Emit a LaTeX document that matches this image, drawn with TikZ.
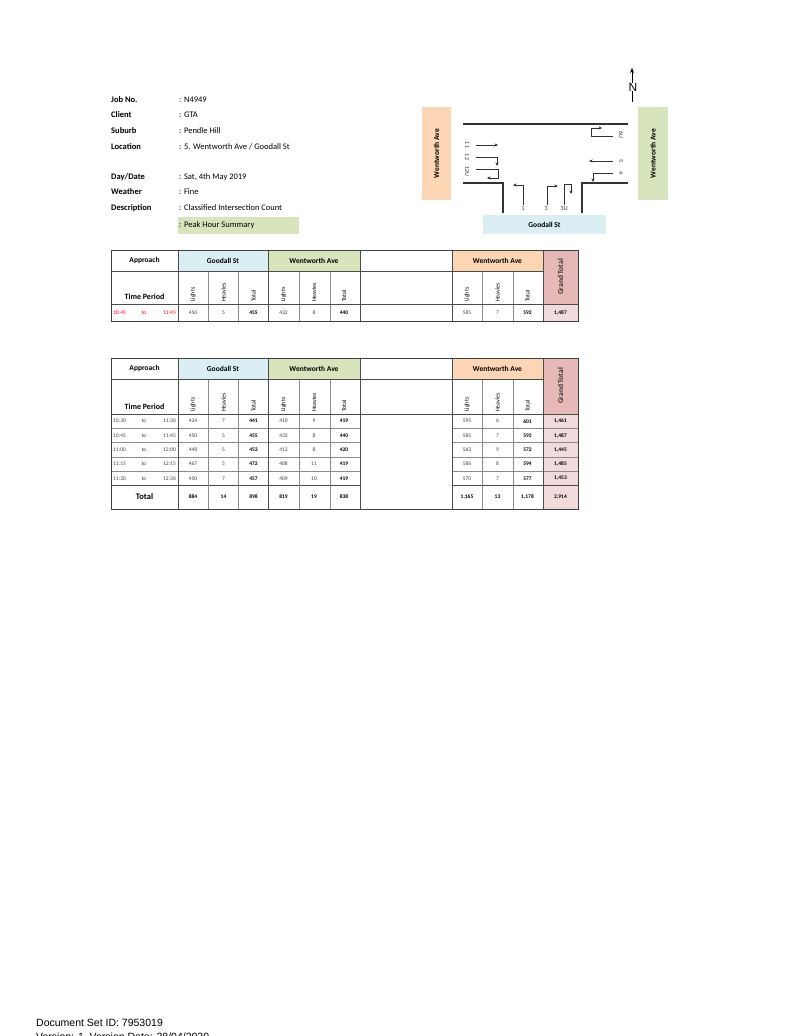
\documentclass[tikz,border=0pt]{standalone}
\usepackage{fontspec}
\usetikzlibrary{arrows.meta}
\setmainfont{Carlito}
\newfontfamily\arial{Liberation Sans}
\definecolor{cblue}{HTML}{DAEEF3}
\definecolor{cgreen}{HTML}{D8E4BC}
\definecolor{corange}{HTML}{FCD5B4}
\definecolor{cgt}{HTML}{E6B8B7}
\definecolor{cgtl}{HTML}{F2DCDB}
\definecolor{grid}{HTML}{8C8C8C}
\begin{document}
\begin{tikzpicture}[x=1pt,y=-1pt,
  lbl/.style={font=\fontsize{8.5}{9}\selectfont\bfseries,anchor=west,inner sep=0},
  val/.style={font=\fontsize{8.5}{9}\selectfont,anchor=west,inner sep=0},
  hd/.style={font=\fontsize{7.5}{8}\selectfont\bfseries,inner sep=0},
  sub/.style={font=\fontsize{6}{6}\selectfont,rotate=90,anchor=west,inner sep=0},
  dat/.style={font=\fontsize{5.5}{6}\selectfont,inner sep=0,text=black!75},
  datb/.style={font=\fontsize{5.5}{6}\selectfont\bfseries,inner sep=0},
  road/.style={line width=1.1pt,black!80},
  mv/.style={-{Stealth[length=3.5pt,width=3pt]},line width=0.5pt,black!80},
  mvl/.style={font=\fontsize{6}{6}\selectfont,rotate=-90,inner sep=0,text=black!80},
  tl/.style={grid,line width=0.4pt},
  tb/.style={black!70,line width=0.9pt}]
\useasboundingbox (0,0) rectangle (796,1036);
\clip (0,0) rectangle (796,1036);
\fill[white] (0,0) rectangle (796,1036);
% header
\node[lbl] (k1) at (111,100) {Job No.};
\node[lbl] (k2) at (111,115) {Client};
\node[lbl] (k3) at (111,131) {Suburb};
\node[lbl] (k4) at (111,147) {Location};
\node[lbl] (k5) at (111,177) {Day/Date};
\node[lbl] (k6) at (111,192) {Weather};
\node[lbl] (k7) at (111,208) {Description};
\node[val] (v1) at (179,100) {: N4949};
\node[val] (v2) at (179,115) {: GTA};
\node[val] (v3) at (179,131) {: Pendle Hill};
\node[val] (v4) at (179,147) {: 5. Wentworth Ave / Goodall St};
\node[val] (v5) at (179,177) {: Sat, 4th May 2019};
\node[val] (v6) at (179,192) {: Fine};
\node[val] (v7) at (179,208) {: Classified Intersection Count};
\fill[cgreen] (178,217) rectangle (299,234);
\node[val] (v8) at (179,225.5) {: Peak Hour Summary};
% intersection
\fill[corange] (422,107) rectangle (451,200);
\node[hd,rotate=90] (wa) at (436.5,153.5) {Wentworth Ave};
\fill[cgreen] (638,107) rectangle (668,200);
\node[hd,rotate=90] (wb) at (653,153.5) {Wentworth Ave};
\fill[cblue] (483,215) rectangle (606,234);
\node[hd] (gs) at (544.5,224.5) {Goodall St};
\draw[road] (463,124) -- (628,124);
\draw[road] (463,183) -- (503,183) -- (503,213);
\draw[road] (628,183) -- (582,183) -- (582,213);
\coordinate (n1) at (632,102); \coordinate (n2) at (632,68);
\draw[-{Stealth[length=5pt,width=4pt]},line width=0.7pt] (n1) -- (n2);
\node[font=\arial\fontsize{12}{12}\selectfont,inner sep=0,fill=white] (N) at (633,87) {N};
\draw[mv] (476,145) -- (498,145);
\draw[mv] (476,157) -- (497,157) -- (497,166);
\draw[mv] (476,169) -- (498,169) -- (498,178) -- (487,178);
\node[mvl] (l11) at (467,145) {11};
\node[mvl] (l12) at (467,157) {12};
\node[mvl] (l12u) at (467,171) {12U};
\draw[mv] (613,136) -- (591,136) -- (591,128) -- (602,128);
\draw[mv] (613,161) -- (589,161);
\draw[mv] (613,173) -- (593,173) -- (593,182);
\node[mvl] (l6) at (621,135) {6U};
\node[mvl] (l5) at (621,161) {5};
\node[mvl] (l4) at (621,173) {4};
\draw[mv] (523,205) -- (523,185) -- (513,185);
\draw[mv] (547,205) -- (547,186) -- (558,186);
\draw[mv] (564,205) -- (564,184) -- (571,184) -- (571,194);
\node[dat,font=\fontsize{6.5}{6}\selectfont] (b1) at (523,208.5) {1};
\node[dat,font=\fontsize{6.5}{6}\selectfont] (b3) at (546,208.5) {3};
\node[dat,font=\fontsize{6.5}{6}\selectfont] (b3u) at (564,208.5) {3U};
% table macros
\newcommand{\tabhead}[3]{%
  \fill[cblue] (178,#1) rectangle (268,#2);
  \fill[cgreen] (268,#1) rectangle (360,#2);
  \fill[corange] (452,#1) rectangle (543,#2);
  \fill[cgt] (543,#1) rectangle (578,#3);
  \node[hd] at (144.5,{(#1+#2)/2}) {Approach};
  \node[hd] at (223,{(#1+#2)/2}) {Goodall St};
  \node[hd] at (314,{(#1+#2)/2}) {Wentworth Ave};
  \node[hd] at (497.5,{(#1+#2)/2}) {Wentworth Ave};
  \node[hd,rotate=90,text=black!80] at (560.5,{(#1+#3)/2}) {Grand Total};
  \node[hd,font=\fontsize{8}{8}\selectfont\bfseries] at (144.5,{#3-7}) {Time Period};
  \foreach \x in {193,283.5,467}{
    \node[sub] at (\x,{#3-2}) {Lights};
    \node[sub] at (\x+30.5,{#3-2}) {Heavies};
    \node[sub] at (\x+60.5,{#3-2}) {Total};}
}
\newcommand{\datrow}[4]{% y1 y2 times values
  \fill[cgtl] (543,#1) rectangle (578,#2);
  #3
  \foreach \a/\b/\c [count=\i] in {#4}{
    \pgfmathsetmacro\xa{\i==1?193:(\i==2?283.5:467)}
    \node[dat] at (\xa,{(#1+#2)/2}) {\a};
    \node[dat] at (\xa+30.5,{(#1+#2)/2}) {\b};
    \node[datb] at (\xa+60.5,{(#1+#2)/2}) {\c};}
}
\newcommand{\tperiod}[4]{% color, from, to, y
  \node[dat,text=#1,anchor=west] at (113,#4) {#2};
  \node[dat,text=#1] at (144,#4) {to};
  \node[dat,text=#1,anchor=east] at (176,#4) {#3};}
\newcommand{\tabgrid}[4]{%
  \foreach \x in {208,238,299,330,482,513}{\draw[tl] (\x,#2) -- (\x,#4);}
  \draw[tb] (111,#2) -- (543,#2);
  \draw[tb] (111,#3) -- (578,#3);
  \foreach \x in {178,268,360,452,543}{\draw[tb] (\x,#1) -- (\x,#4);}
  \draw[black!75,line width=1pt] (111,#1) rectangle (578,#4);
}
% table 1
\tabhead{250}{271}{304}
\datrow{304}{321}{\tperiod{red}{10:45}{11:45}{312.5}}{450/5/455,432/8/440,585/7/592}
\node[datb] at (560.5,312.5) {1,487};
\tabgrid{250}{271}{304}{321}
% table 2
\tabhead{358}{379}{414}
\datrow{414}{428.3}{\tperiod{black!75}{10:30}{11:30}{421.2}}{434/7/441,410/9/419,595/6/601}
\node[datb] at (560.5,421.2) {1,461};
\datrow{428.3}{442.6}{\tperiod{black!75}{10:45}{11:45}{435.5}}{450/5/455,432/8/440,585/7/592}
\node[datb] at (560.5,435.5) {1,487};
\datrow{442.6}{456.9}{\tperiod{black!75}{11:00}{12:00}{449.8}}{448/5/453,412/8/420,563/9/572}
\node[datb] at (560.5,449.8) {1,445};
\datrow{456.9}{471.2}{\tperiod{black!75}{11:15}{12:15}{464.1}}{467/5/472,408/11/419,586/8/594}
\node[datb] at (560.5,464.1) {1,485};
\datrow{471.2}{485.5}{\tperiod{black!75}{11:30}{12:30}{478.4}}{450/7/457,409/10/419,570/7/577}
\node[datb] at (560.5,478.4) {1,453};
\fill[cgtl] (543,485.5) rectangle (578,509);
\foreach \a/\b/\c [count=\i] in {884/14/898,819/19/838,{1,165}/13/{1,178}}{
  \pgfmathsetmacro\xa{\i==1?193:(\i==2?283.5:467)}
  \node[datb] at (\xa,497) {\a};
  \node[datb] at (\xa+30.5,497) {\b};
  \node[datb] at (\xa+60.5,497) {\c};}
\node[datb] at (560.5,497) {2,914};
\node[hd,font=\fontsize{8.5}{9}\selectfont\bfseries] at (144.5,497) {Total};
\foreach \y in {428.3,442.6,456.9,471.2}{\draw[tl] (111,\y) -- (360,\y); \draw[tl] (452,\y) -- (578,\y);}
\draw[tb] (111,485.5) -- (360,485.5); \draw[tb] (452,485.5) -- (578,485.5);
\tabgrid{358}{379}{414}{509}
% footer
\node[font=\arial\fontsize{10.5}{12}\selectfont,anchor=base west,inner sep=0] (f1) at (36,1026) {Document Set ID: 7953019};
\node[font=\arial\fontsize{10.5}{12}\selectfont,anchor=base west,inner sep=0] (f2) at (36,1040) {Version: 1, Version Date: 28/04/2020};
\end{tikzpicture}
\end{document}
